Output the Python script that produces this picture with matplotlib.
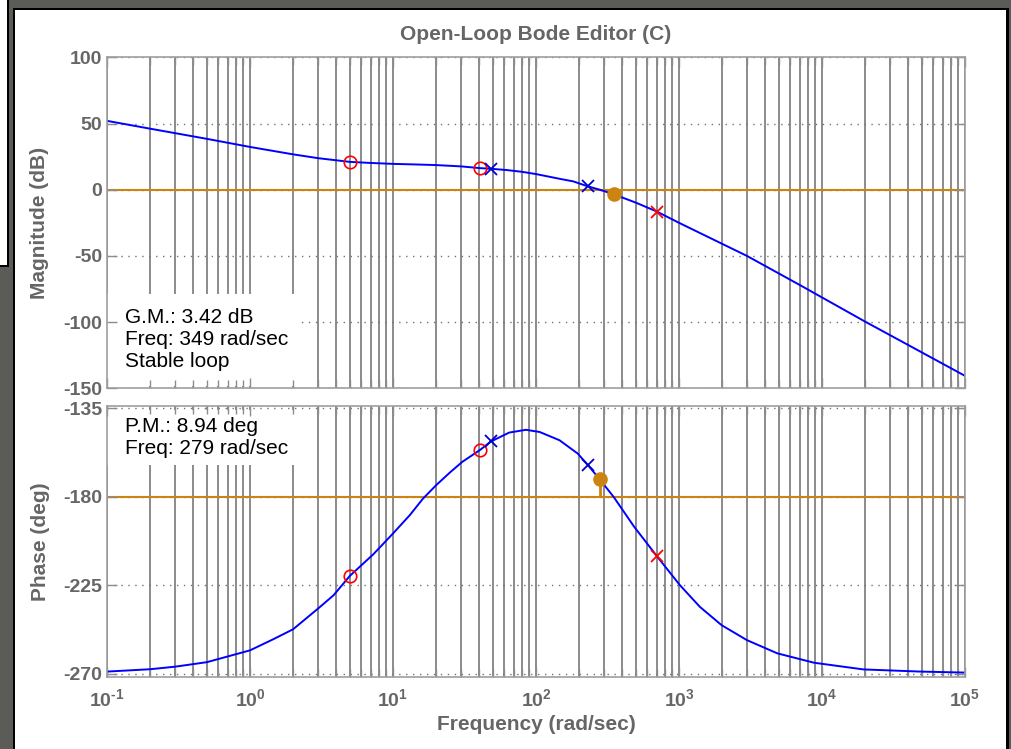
import numpy as np
import matplotlib
matplotlib.use("Agg")
import matplotlib.pyplot as plt
from matplotlib.patches import Rectangle
from matplotlib.ticker import FixedLocator, NullFormatter, FuncFormatter

plt.rcParams["font.family"] = ["Liberation Sans", "DejaVu Sans"]
plt.rcParams["axes.unicode_minus"] = False
plt.rcParams["mathtext.fontset"] = "custom"
plt.rcParams["mathtext.rm"] = "Liberation Sans:bold"
plt.rcParams["mathtext.bf"] = "Liberation Sans:bold"
plt.rcParams["mathtext.default"] = "rm"

W, H = 1011, 749

# open-loop response sampled along the frequency axis (rad/sec)
freq_mag = [0.1, 0.2, 0.5, 1, 2, 3, 5, 7, 10, 14, 20, 30, 40.5, 48.5, 63, 80, 100,
            150, 182, 231, 279, 349, 500, 700, 1000, 2040, 2985, 7000, 20000, 100000]
mag_db = [52.0, 46.1, 38.4, 32.3, 26.7, 23.8, 21.0, 20.2, 19.5, 19.1, 18.6, 17.6,
          16.3, 15.8, 14.8, 13.5, 11.8, 8.0, 6.3, 2.5, 0.0, -3.42, -9.8, -16.5,
          -25.0, -41.3, -50.0, -72.0, -99.6, -140.6]

freq_phase = [0.1, 0.2, 0.3, 0.5, 1, 1.45, 2, 3, 3.84, 5, 7.3, 10, 13.1, 16.2, 20,
              25, 30.5, 40.5, 48.5, 65, 85, 106, 146, 196, 231, 279, 349, 385, 486,
              700, 1013, 1400, 1986, 2985, 4860, 8800, 19500, 49000, 100000]
phase_deg = [-268.8, -267.6, -266.3, -264.0, -258.0, -252.4, -247.3, -236.7, -230.0,
             -220.1, -209.1, -198.6, -189.3, -180.9, -174.1, -167.6, -162.2, -156.2,
             -151.8, -147.3, -145.9, -147.0, -151.2, -158.0, -163.9, -171.06, -180.0,
             -184.5, -195.2, -210.1, -224.8, -235.9, -245.2, -252.8, -259.5, -264.3,
             -267.7, -268.8, -269.3]

# compensator zeros / poles and plant poles
zero_freq = [5.0, 40.5]
zero_mag = [21.0, 16.3]
zero_phase = [-220.1, -156.2]
pole_freq = [700.0]
pole_mag = [-16.5]
pole_phase = [-210.1]
plant_freq = [48.5, 231.0]
plant_mag = [15.8, 2.5]
plant_phase = [-151.8, -163.9]

# stability margins
gm_db, gm_freq = 3.42, 349
pm_deg, pm_freq = 8.94, 279

decade_exps = [-1, 0, 1, 2, 3, 4, 5]
mag_ticks = [-150, -100, -50, 0, 50, 100]
phase_ticks = [-270, -225, -180, -135]

ORANGE = "#cc8410"
GRAY_TXT = "0.40"


def px_rect(fig, x0, y0, x1, y1, color):
    fig.add_artist(Rectangle((x0 / W, 1 - y1 / H), (x1 - x0) / W, (y1 - y0) / H,
                             transform=fig.transFigure, facecolor=color,
                             edgecolor="none", zorder=-10))


def decade_label(v, _pos):
    e = int(round(np.log10(v)))
    if e < 0:
        return r"$10^{\text{-}%d}$" % -e
    return r"$10^{%d}$" % e


def style_axes(ax, yticks):
    decades = [10.0 ** e for e in decade_exps]
    subs = [d * k for d in decades[:-1] for k in range(2, 10)]

    ax.set_xscale("log")
    ax.set_xlim(decades[0], decades[-1])
    ax.xaxis.set_major_locator(FixedLocator(decades))
    ax.xaxis.set_major_formatter(FuncFormatter(decade_label))
    ax.xaxis.set_minor_locator(FixedLocator(subs))
    ax.xaxis.set_minor_formatter(NullFormatter())
    ax.set_yticks(yticks)
    ax.tick_params(which="both", direction="in", top=True, right=True,
                   color="0.55", width=1, labelsize=14, labelcolor=GRAY_TXT)
    ax.tick_params(which="major", length=7)
    ax.tick_params(which="minor", length=6)
    for lab in ax.get_yticklabels():
        lab.set_fontweight("bold")
    for s in ax.spines.values():
        s.set_color("0.62")
        s.set_linewidth(1.2)
    ax.set_facecolor("white")

    # log grid: solid verticals at every decade and sub-decade, dotted horizontals
    ax.vlines(decades + subs, 0, 1, transform=ax.get_xaxis_transform(),
              colors="0.47", linewidth=1.2, zorder=0.8)
    ax.hlines(yticks, 0, 1, transform=ax.get_yaxis_transform(), colors="0.45",
              linewidth=1.0, linestyles=(0, (1, 4)), zorder=0.8)


fig = plt.figure(figsize=(W / 100, H / 100), dpi=100)
fig.patch.set_facecolor("#5b5b57")

# window frame
px_rect(fig, 13, 8, 1009, 749, "black")
px_rect(fig, 15, 10, 1006, 749, "white")
px_rect(fig, 0, 0, 8.5, 267, "black")
px_rect(fig, 0, 0, 7, 265, "white")

ax_mag = fig.add_axes([107 / W, 1 - 388.3 / H, 858 / W, 331 / H])
ax_ph = fig.add_axes([107 / W, 1 - 677.3 / H, 858 / W, 271.3 / H])

# ---- magnitude ----
style_axes(ax_mag, mag_ticks)
ax_mag.set_ylim(-150, 100)
ax_mag.tick_params(labelbottom=False)
ax_mag.axhline(0, color=ORANGE, linewidth=1.5, zorder=1.5)
ax_mag.plot(freq_mag, mag_db, color="#0000ff", linewidth=1.4, zorder=2)
ax_mag.plot(zero_freq, zero_mag, "o", mfc="none", mec="red", ms=9, mew=1.2, zorder=3)
ax_mag.plot(pole_freq, pole_mag, "x", color="red", ms=9, mew=1.3, zorder=3)
ax_mag.plot(plant_freq, plant_mag, "x", color="#0000cc", ms=8, mew=1.3, zorder=3)
ax_mag.vlines(gm_freq, -gm_db, 0, colors=ORANGE, linewidth=2, zorder=2.6)
ax_mag.plot([gm_freq], [-gm_db], "o", color=ORANGE, ms=9.5, zorder=3)
ax_mag.add_patch(Rectangle((0, 0.007), 0.2226, 0.278, transform=ax_mag.transAxes,
                           facecolor="white", edgecolor="none", zorder=1))
ax_mag.text(0.021, 0.2426,
            f"G.M.: {gm_db:.2f} dB\nFreq: {gm_freq:.0f} rad/sec\nStable loop",
            transform=ax_mag.transAxes, ha="left", va="top", fontsize=15,
            color="black", zorder=4)

# ---- phase ----
style_axes(ax_ph, phase_ticks)
ax_ph.set_ylim(-271.7, -133.8)
ax_ph.axhline(-180, color=ORANGE, linewidth=1.5, zorder=1.5)
ax_ph.plot(freq_phase, phase_deg, color="#0000ff", linewidth=1.4, zorder=2)
ax_ph.plot(zero_freq, zero_phase, "o", mfc="none", mec="red", ms=9, mew=1.2, zorder=3)
ax_ph.plot(pole_freq, pole_phase, "x", color="red", ms=9, mew=1.3, zorder=3)
ax_ph.plot(plant_freq, plant_phase, "x", color="#0000cc", ms=8, mew=1.3, zorder=3)
ax_ph.vlines(pm_freq, -180, -180 + pm_deg, colors=ORANGE, linewidth=2, zorder=2.6)
ax_ph.plot([pm_freq], [-180 + pm_deg], "o", color=ORANGE, ms=9.5, zorder=3)
ax_ph.add_patch(Rectangle((0, 0.7825), 0.2226, 0.2025, transform=ax_ph.transAxes,
                          facecolor="white", edgecolor="none", zorder=1))
ax_ph.text(0.021, 0.9594,
           f"P.M.: {pm_deg:.2f} deg\nFreq: {pm_freq:.0f} rad/sec",
           transform=ax_ph.transAxes, ha="left", va="top", fontsize=15,
           color="black", zorder=4)
ax_ph.tick_params(axis="x", pad=8)

# labels
fig.text(536 / W, 1 - 34 / H, "Open-Loop Bode Editor (C)", ha="center", va="center",
         fontsize=15, fontweight="bold", color=GRAY_TXT)
fig.text(40 / W, 1 - 222.8 / H, "Magnitude (dB)", rotation=90, ha="center",
         va="center", fontsize=15, fontweight="bold", color=GRAY_TXT)
fig.text(40 / W, 1 - 541.6 / H, "Phase (deg)", rotation=90, ha="center",
         va="center", fontsize=15, fontweight="bold", color=GRAY_TXT)
fig.text(536 / W, 1 - 725 / H, "Frequency (rad/sec)", ha="center", va="center",
         fontsize=15, fontweight="bold", color=GRAY_TXT)

fig.savefig("out.png", dpi=100, facecolor=fig.get_facecolor())
